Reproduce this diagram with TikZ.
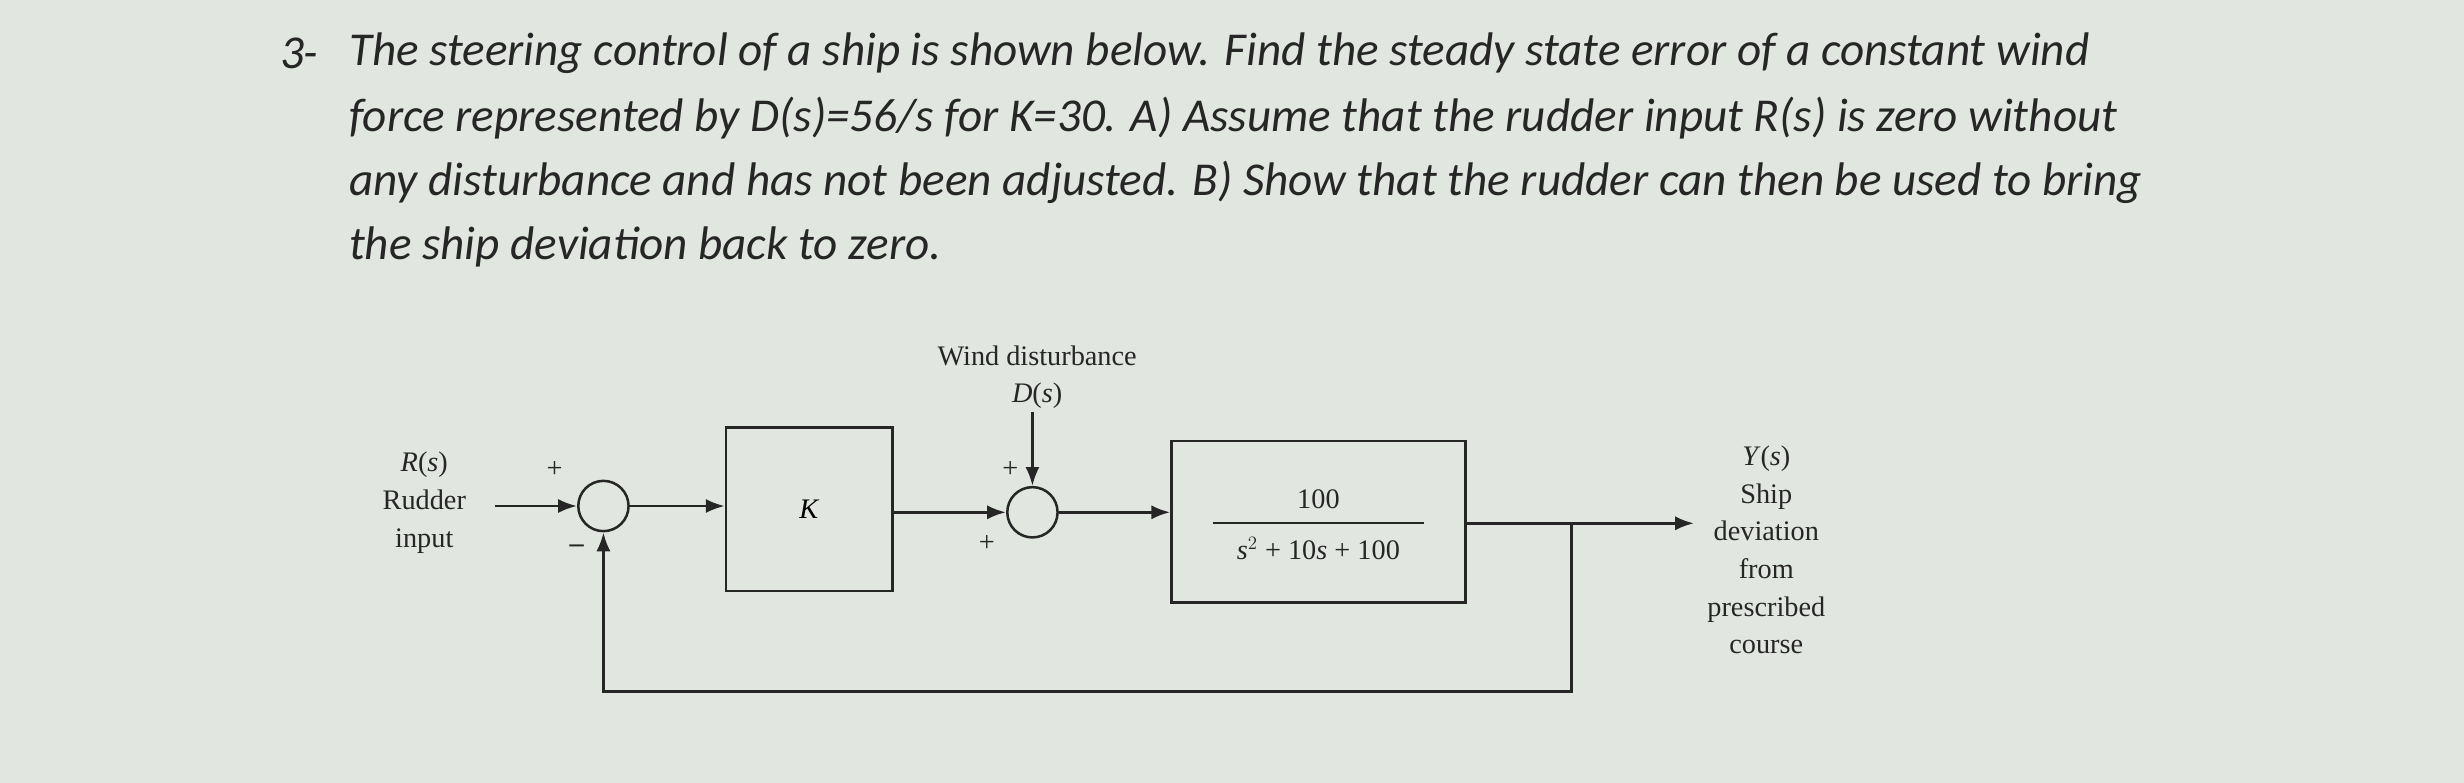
\documentclass[tikz,border=0pt]{standalone}
\usepackage{fontspec}
\setmainfont{Liberation Serif}
\newfontfamily\qfont{Carlito}
\usetikzlibrary{arrows.meta}
\definecolor{bg}{HTML}{E2E6E1}
\definecolor{ink}{HTML}{262626}
\begin{document}
\begin{tikzpicture}[x=1pt,y=-1pt,
  blk/.style={draw=ink,line width=1.6pt,inner sep=0pt,font=\fontsize{18}{20}\selectfont},
  sumj/.style={draw=ink,line width=1.6pt,circle,minimum size=32pt,inner sep=0pt},
  con/.style={draw=ink,line width=1.8pt,-{Latex[length=12pt,width=9pt]}},
  lab/.style={text=ink,font=\fontsize{18}{20}\selectfont,inner sep=0pt},
  q/.style={text=ink,font=\qfont\itshape\fontsize{30}{41}\selectfont,anchor=west,inner sep=0pt}]
\fill[bg] (0,0) rectangle (1568,498);
\useasboundingbox (0,0) rectangle (1568,498);
\node[q] (n3) at (178,34) {3-};
\node[q] (l1) at (222,34) {The steering control of a ship is shown below. Find the steady state error of a constant wind};
\node[q] (l2) at (222,75) {force represented by D(s)=56/s for K=30. A) Assume that the rudder input R(s) is zero without};
\node[q] (l3) at (222,116) {any disturbance and has not been adjusted. B) Show that the rudder can then be used to bring};
\node[q] (l4) at (222,157) {the ship deviation back to zero.};
% diagram
\node[lab,align=center] (rin) at (270,320) {\textit{R}(\textit{s})\\[4pt]Rudder\\[4pt]input};
\node[sumj] (s1) at (384,322) {};
\node[blk,minimum width=106pt,minimum height=104pt] (k) at (515,324) {\textit{K}};
\node[sumj] (s2) at (657,326) {};
\node[blk,minimum width=187pt,minimum height=103pt] (g) at (839,332) {};
\node[lab] (gn) at (839,318) {100};
\draw[ink,line width=1.3pt] (772,333) -- (906,333);
\node[lab] (gd) at (839,349) {\textit{s}$^{2}$ + 10\textit{s} + 100};
\node[lab,align=center] (wd) at (660,240) {Wind disturbance\\[4pt]\textit{D}(\textit{s})};
\coordinate (dtop) at (657,262);
\node[lab,align=center] (yout) at (1124,350) {\textit{Y}(\textit{s})\\[4pt]Ship\\[4pt]deviation\\[4pt]from\\[4pt]prescribed\\[4pt]course};
\node[lab] (p1) at (353,299) {+};
\node[lab] (m1) at (367,349) {\textbf{--}};
\node[lab] (p2) at (643,299) {+};
\node[lab] (p3) at (628,346) {+};
\coordinate (rs) at (315,322);
\coordinate (yo) at (1078,333);
\coordinate (br) at (1000,333);
\draw[con] (rs) -- (s1.west);
\draw[con] (s1.east) -- (k.west |- s1.east);
\draw[con] (k.east |- s2.west) -- (s2.west);
\draw[con] (dtop) -- (s2.north);
\draw[con] (s2.east) -- (g.west |- s2.east);
\draw[con] (g.east |- br) -- (yo);
\draw[con] (br) -- (1000,440) -- (384,440) -- (s1.south);
\end{tikzpicture}
\end{document}
